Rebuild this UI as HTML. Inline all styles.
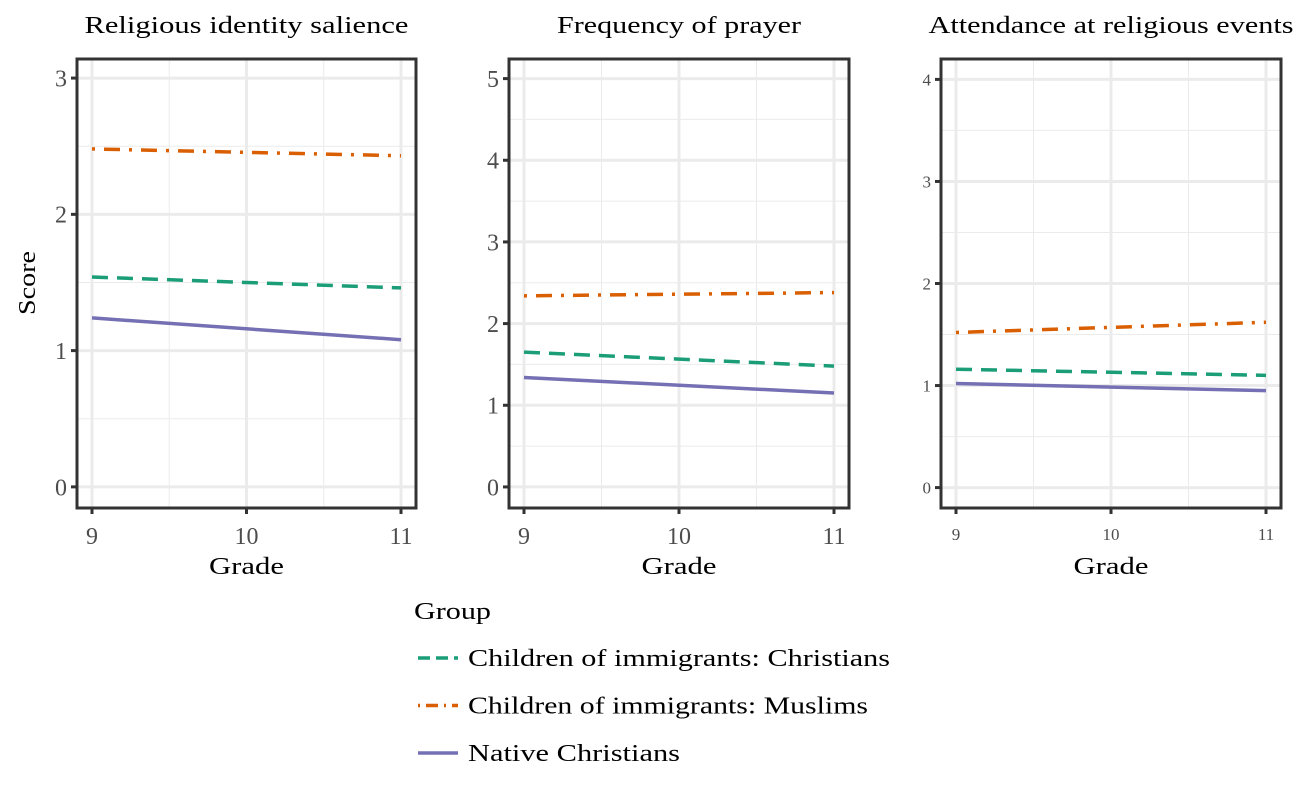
<!DOCTYPE html>
<html><head><meta charset="utf-8"><style>
body{margin:0;background:#fff;}
svg{display:block;font-family:"Liberation Serif",serif;}
</style></head><body>
<svg id="chart" width="1298" height="787"></svg>
<script>
const grades=[9,11];
const panelTitles=["Religious identity  salience","Frequency of prayer","Attendance at religious events"];
const panelTicks=[[0,1,2,3],[0,1,2,3,4,5],[0,1,2,3,4]];
const xTicks=[9,10,11];
const seriesNames=["Children of immigrants: Christians","Children of immigrants: Muslims","Native Christians"];
const p1Christ=[1.54,1.46], p1Muslim=[2.48,2.43], p1Native=[1.24,1.08];
const p2Christ=[1.65,1.48], p2Muslim=[2.34,2.38], p2Native=[1.34,1.15];
const p3Christ=[1.16,1.10], p3Muslim=[1.52,1.62], p3Native=[1.02,0.95];
const panelData=[[p1Christ,p1Muslim,p1Native],[p2Christ,p2Muslim,p2Native],[p3Christ,p3Muslim,p3Native]];

const colors=["#1b9e77","#d95f02","#7570b3"];
const dashes=["16,9","3,9,16,9",""];
const NS="http://www.w3.org/2000/svg";
const svg=document.getElementById('chart');
function mk(tag,attrs,parent){const e=document.createElementNS(NS,tag);for(const k in attrs)e.setAttribute(k,attrs[k]);(parent||svg).appendChild(e);return e;}
const titleW=[324,244,365];
const panels=[
 {x0:77,x1:416,y0:59,y1:508,ymin:-0.155,ymax:3.14,tf:24},
 {x0:509,x1:849,y0:59,y1:508,ymin:-0.258,ymax:5.24,tf:24},
 {x0:941,x1:1281,y0:59,y1:508,ymin:-0.2,ymax:4.2,tf:17}
];
panels.forEach((p,i)=>{
 const g=mk('g',{});
 
 
 const xs=v=>p.x0+15+(v-9)/2*(p.x1-p.x0-30);
 const ys=v=>p.y1-(v-p.ymin)/(p.ymax-p.ymin)*(p.y1-p.y0);
 const ticks=panelTicks[i];
 for(let k=0;k<ticks.length-1;k++){const v=ticks[k]+0.5;mk('line',{x1:p.x0,x2:p.x1,y1:ys(v),y2:ys(v),stroke:'#ebebeb','stroke-width':1},g);}
 [9.5,10.5].forEach(v=>mk('line',{x1:xs(v),x2:xs(v),y1:p.y0,y2:p.y1,stroke:'#ebebeb','stroke-width':1},g));
 ticks.forEach(v=>{mk('line',{x1:p.x0,x2:p.x1,y1:ys(v),y2:ys(v),stroke:'#ebebeb','stroke-width':3},g);
   mk('line',{x1:p.x0-6,x2:p.x0,y1:ys(v),y2:ys(v),stroke:'#333','stroke-width':3},g);
   const t=mk('text',{x:p.x0-10,y:ys(v)+p.tf*0.35,'text-anchor':'end','font-size':p.tf,fill:'#4d4d4d'},g);t.textContent=v;
   
 });
 xTicks.forEach(v=>{mk('line',{x1:xs(v),x2:xs(v),y1:p.y0,y2:p.y1,stroke:'#ebebeb','stroke-width':3},g);
   mk('line',{x1:xs(v),x2:xs(v),y1:p.y1,y2:p.y1+6,stroke:'#333','stroke-width':3},g);
   const t=mk('text',{x:xs(v),y:p.y1+(i==2?32:36),'text-anchor':'middle','font-size':p.tf,fill:'#4d4d4d'},g);t.textContent=v;
   
 });
 panelData[i].forEach((s,j)=>{
   const l=mk('line',{x1:xs(grades[0]),y1:ys(s[0]),x2:xs(grades[1]),y2:ys(s[1]),stroke:colors[j],'stroke-width':3.5},g);
   if(dashes[j])l.setAttribute('stroke-dasharray',dashes[j]);
   
   
 });
 mk('rect',{x:p.x0,y:p.y0,width:p.x1-p.x0,height:p.y1-p.y0,fill:'none',stroke:'#333','stroke-width':3},g);
 const tt=mk('text',{x:(p.x0+p.x1)/2,y:33,'text-anchor':'middle','font-size':24,fill:'#000',textLength:titleW[i],lengthAdjust:'spacingAndGlyphs'},g);tt.textContent=panelTitles[i];
 
 const xt=mk('text',{x:(p.x0+p.x1)/2,y:574,'text-anchor':'middle','font-size':24,fill:'#000',textLength:75,lengthAdjust:'spacingAndGlyphs'},g);xt.textContent='Grade';
 
});
const yt=mk('text',{x:0,y:0,'text-anchor':'middle','font-size':24,transform:'translate(35,283) rotate(-90)',textLength:64,lengthAdjust:'spacingAndGlyphs'});yt.textContent='Score';

const lg=mk('g',{});


const lt=mk('text',{x:414,y:619,'font-size':24,textLength:77,lengthAdjust:'spacingAndGlyphs'},lg);lt.textContent='Group';

const legW=[422,400,212];
seriesNames.forEach((n,j)=>{
 const y=658+j*47.5;
 const l=mk('line',{x1:418,x2:458,y1:y,y2:y,stroke:colors[j],'stroke-width':3.5},lg);
 if(dashes[j])l.setAttribute('stroke-dasharray',j==0?'12,6':'2,6,12,6');
 const t=mk('text',{x:468,y:y+8,'font-size':24,textLength:legW[j],lengthAdjust:'spacingAndGlyphs'},lg);t.textContent=n;
 
});
</script>
</body></html>
